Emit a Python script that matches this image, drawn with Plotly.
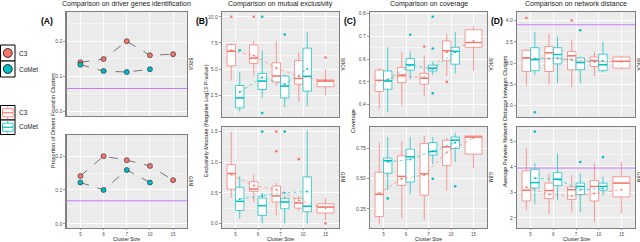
import plotly.graph_objects as go

W, H = 640, 242
CATS = ['5', '6', '7', '10', '15']
C3_COL = '#F8766D'
COMET_COL = '#00BFC4'
PURPLE = '#C77CFF'

# ---------------- Panel A: proportion of drivers found ----------------
A_BRCA_C3 = [0.140, 0.149, 0.200, 0.160, 0.163]
A_BRCA_COMET = [0.133, 0.115, 0.112, 0.120]
A_GBM_C3 = [0.141, 0.200, 0.188, 0.171, 0.129]
A_GBM_COMET = [0.122, 0.100, 0.159, 0.122]
A_BASE = [0.065, 0.068]

# ---------------- Panel B: mutual exclusivity ----------------
B_BRCA_C3 = dict(lo=[3.9, 4.4, 3.4, 1.9, 2.5], q1=[5.3, 5.55, 3.75, 3.55, 3.3],
                 med=[6.7, 6.05, 4.33, 4.1, 3.85], q3=[7.35, 7.3, 5.6, 5.8, 3.95],
                 hi=[7.45, 7.7, 7.7, 6.6, 5.0], mean=[6.8, 6.3, 5.1, 4.3, 3.9],
                 ox=[0, 1, 4], oy=[10.0, 10.0, 6.1])
B_BRCA_COMET = dict(lo=[0.96, 2.24, 1.35, 1.44], q1=[1.28, 3.04, 2.24, 2.88],
                    med=[2.24, 3.85, 3.37, 4.3], q3=[3.43, 4.58, 4.33, 7.0],
                    hi=[4.71, 6.8, 4.5, 8.5], mean=[2.8, 4.2, 3.55, 5.0],
                    ox=[0, 1, 1, 2], oy=[6.8, 10.0, 0.8, 8.3])
B_GBM_C3 = dict(lo=[0.42, 0.35, 0.13, 0.21, 0.05], q1=[0.56, 0.52, 0.35, 0.25, 0.17],
                med=[0.815, 0.56, 0.45, 0.335, 0.267], q3=[0.96, 0.68, 0.61, 0.41, 0.32],
                hi=[1.5, 0.8, 0.67, 0.45, 0.415], mean=[0.8, 0.62, 0.55, 0.38, 0.25],
                ox=[2, 2, 3, 4], oy=[1.5, 1.18, 1.05, 0.0])
B_GBM_COMET = dict(lo=[0.08, 0.0, 0.0, 0.0], q1=[0.21, 0.13, 0.24, 0.19],
                   med=[0.36, 0.29, 0.35, 0.28], q3=[0.59, 0.415, 0.41, 0.76],
                   hi=[0.77, 0.5, 0.45, 1.52], mean=[0.4, 0.45, 0.5, 0.52],
                   ox=[1, 2], oy=[1.5, 1.5])

# ---------------- Panel C: coverage ----------------
C_BRCA_C3 = dict(lo=[0.383, 0.397, 0.438, 0.526, 0.548], q1=[0.458, 0.497, 0.49, 0.593, 0.652],
                 med=[0.507, 0.53, 0.516, 0.637, 0.673], q3=[0.552, 0.563, 0.538, 0.68, 0.729],
                 hi=[0.56, 0.632, 0.615, 0.713, 0.747], mean=[0.505, 0.525, 0.52, 0.63, 0.68],
                 ox=[2, 3], oy=[0.655, 0.50])
C_BRCA_COMET = dict(lo=[0.368, 0.512, 0.53, 0.538], q1=[0.468, 0.552, 0.548, 0.578],
                    med=[0.504, 0.575, 0.56, 0.634], q3=[0.548, 0.603, 0.574, 0.652],
                    hi=[0.652, 0.634, 0.59, 0.718], mean=[0.51, 0.573, 0.558, 0.63],
                    ox=[1, 2, 2, 2], oy=[0.707, 0.786, 0.647, 0.45])
C_GBM_C3 = dict(lo=[0.12, 0.17, 0.158, 0.404, 0.587], q1=[0.185, 0.445, 0.363, 0.609, 0.705],
                med=[0.371, 0.519, 0.541, 0.765, 0.847], q3=[0.554, 0.69, 0.792, 0.82, 0.855],
                hi=[0.8, 0.814, 0.855, 0.84, 0.857], mean=[0.38, 0.5, 0.53, 0.72, 0.84],
                ox=[], oy=[])
C_GBM_COMET = dict(lo=[0.405, 0.371, 0.62, 0.636], q1=[0.546, 0.472, 0.697, 0.751],
                   med=[0.65, 0.683, 0.726, 0.82], q3=[0.672, 0.746, 0.8, 0.847],
                   hi=[0.847, 0.847, 0.847, 0.882], mean=[0.64, 0.66, 0.73, 0.8],
                   ox=[0, 2, 3], oy=[0.336, 0.5, 0.437])

# ---------------- Panel D: network distance ----------------
D_BRCA_C3 = dict(lo=[2.46, 2.49, 2.43, 2.7, 2.84], q1=[2.8, 2.8, 2.84, 2.92, 2.88],
                 med=[3.12, 3.24, 3.17, 3.06, 3.04], q3=[3.3, 3.39, 3.27, 3.14, 3.14],
                 hi=[3.33, 3.69, 3.55, 3.26, 3.17], mean=[3.12, 3.1, 3.08, 3.03, 3.03],
                 ox=[0, 2], oy=[4.06, 4.0])
D_BRCA_COMET = dict(lo=[2.72, 2.53, 2.53, 2.78], q1=[2.82, 2.98, 2.84, 2.82],
                    med=[3.08, 3.2, 3.01, 2.96], q3=[3.36, 3.36, 3.12, 3.21],
                    hi=[3.73, 3.62, 3.15, 3.5], mean=[3.1, 3.12, 3.02, 3.05],
                    ox=[0, 2], oy=[1.84, 3.77])
D_GBM_C3 = dict(lo=[2.3, 2.15, 2.21, 1.83, 2.18], q1=[2.66, 2.75, 2.72, 2.66, 2.82],
                med=[3.08, 3.07, 3.1, 3.23, 3.36], q3=[3.84, 3.36, 3.21, 3.46, 3.61],
                hi=[4.74, 3.74, 3.68, 4.13, 4.19], mean=[3.2, 2.92, 2.85, 2.95, 3.1],
                ox=[], oy=[])
D_GBM_COMET = dict(lo=[2.53, 2.69, 2.23, 2.87], q1=[3.17, 3.26, 2.91, 3.08],
                   med=[3.38, 3.51, 3.23, 3.23], q3=[3.9, 3.77, 3.36, 3.36],
                   hi=[4.15, 4.51, 3.74, 3.61], mean=[3.55, 3.5, 3.1, 3.15],
                   ox=[0, 2, 3], oy=[5.38, 4.19, 4.38])
D_BASE = [3.9, 3.95]

TITLES = ['Comparison on driver genes identification', 'Comparison on mutual exclusivity',
          'Comparison on coverage', 'Comparison on network distance']
LETTERS = ['(A)', '(B)', '(C)', '(D)']
YTITLES = ['Proportion of Drivers Found in Clusters',
           'Exclusivity Measure (Negative Log10 P-value)',
           'Coverage', 'Average Pairwise Network Distance between Clusters']
STRIPS = ['BRCA', 'GBM']

# ---------------- layout geometry (pixels) ----------------
XPIX = [(66.5, 187), (222, 339), (370, 487), (517, 635)]
YPIX_A = [(12, 116), (135, 228)]
YPIX = [(12, 117), (127, 228)]


def px(x):
    return x / W


def py(y):
    return 1 - y / H


fig = go.Figure()
DODGE = 0.1875
BW = 0.375


def ax_id(col, row):
    return col * 2 + row + 1


def add_boxes(idx, data, color, side):
    xa, ya = f'x{idx}', f'y{idx}'
    n = len(data['q1'])
    nd = min(n, 4)
    xs = [i + side * DODGE for i in range(nd)]
    fig.add_trace(go.Box(x=xs, q1=data['q1'][:nd], median=data['med'][:nd], q3=data['q3'][:nd],
                         lowerfence=data['lo'][:nd], upperfence=data['hi'][:nd], width=BW,
                         fillcolor='white', line=dict(color=color, width=0.7), whiskerwidth=0,
                         boxpoints=False, xaxis=xa, yaxis=ya, showlegend=False, hoverinfo='skip'))
    mx, my = [], []
    for i in range(nd):
        mx += [xs[i] - BW / 2, xs[i] + BW / 2, None]
        my += [data['med'][i], data['med'][i], None]
    xm = list(xs)
    if n == 5:
        fig.add_trace(go.Box(x=[4], q1=[data['q1'][4]], median=[data['med'][4]], q3=[data['q3'][4]],
                             lowerfence=[data['lo'][4]], upperfence=[data['hi'][4]], width=0.75,
                             fillcolor='white', line=dict(color=color, width=0.7), whiskerwidth=0,
                             boxpoints=False, xaxis=xa, yaxis=ya, showlegend=False, hoverinfo='skip'))
        mx += [4 - 0.375, 4 + 0.375, None]
        my += [data['med'][4], data['med'][4], None]
        xm.append(4)
    fig.add_trace(go.Scatter(x=mx, y=my, mode='lines', line=dict(color=color, width=1.4),
                             xaxis=xa, yaxis=ya, showlegend=False, hoverinfo='skip'))
    fig.add_trace(go.Scatter(x=xm, y=data['mean'], mode='lines+markers',
                             line=dict(color=color, width=0.6, dash='dot'),
                             marker=dict(size=2.0, color=color),
                             xaxis=xa, yaxis=ya, showlegend=False, hoverinfo='skip'))
    oxs = [o + (side * DODGE if (n == 4 or o < 4) else 0) for o in data['ox']]
    if oxs:
        fig.add_trace(go.Scatter(x=oxs, y=data['oy'], mode='markers',
                                 marker=dict(size=2.6, color=color),
                                 xaxis=xa, yaxis=ya, showlegend=False, hoverinfo='skip'))


for row, (c3, cm, base) in enumerate([(A_BRCA_C3, A_BRCA_COMET, A_BASE[0]),
                                      (A_GBM_C3, A_GBM_COMET, A_BASE[1])]):
    idx = ax_id(0, row)
    xa, ya = f'x{idx}', f'y{idx}'
    fig.add_trace(go.Scatter(x=[-0.6, 4.6], y=[base, base], mode='lines',
                             line=dict(color=PURPLE, width=1.0), xaxis=xa, yaxis=ya,
                             showlegend=False, hoverinfo='skip'))
    for vals, col in [(c3, C3_COL), (cm, COMET_COL)]:
        fig.add_trace(go.Scatter(x=list(range(len(vals))), y=vals, mode='lines+markers',
                                 line=dict(color='#444444', width=0.7, dash='dash'),
                                 marker=dict(size=5, color=col, line=dict(color='#222222', width=0.6)),
                                 xaxis=xa, yaxis=ya, showlegend=False, hoverinfo='skip'))

panels = [(1, B_BRCA_C3, B_BRCA_COMET, B_GBM_C3, B_GBM_COMET),
          (2, C_BRCA_C3, C_BRCA_COMET, C_GBM_C3, C_GBM_COMET),
          (3, D_BRCA_C3, D_BRCA_COMET, D_GBM_C3, D_GBM_COMET)]
for col, bc3, bcm, gc3, gcm in panels:
    for row, (c3, cm) in enumerate([(bc3, bcm), (gc3, gcm)]):
        idx = ax_id(col, row)
        if col == 3:
            fig.add_trace(go.Scatter(x=[-0.6, 4.6], y=[D_BASE[row]] * 2, mode='lines',
                                     line=dict(color=PURPLE, width=1.0), xaxis=f'x{idx}',
                                     yaxis=f'y{idx}', showlegend=False, hoverinfo='skip'))
        add_boxes(idx, c3, C3_COL, -1)
        add_boxes(idx, cm, COMET_COL, 1)

YSPEC = {
    1: ([-0.0135, 0.2835], 0.1, '.1f'), 2: ([-0.0125, 0.2625], 0.1, '.1f'),
    3: ([0.41, 10.46], 2.5, '.1f'), 4: ([-0.075, 1.575], 0.5, '.1f'),
    5: ([0.346, 0.807], 0.1, '.1f'), 6: ([0.09, 0.93], 0.25, '.2f'),
    7: ([1.73, 4.2], 0.5, '.1f'), 8: ([1.6, 5.56], 1, 'd'),
}
layout_axes = {}
for col in range(4):
    for row in range(2):
        idx = ax_id(col, row)
        ypx = (YPIX_A if col == 0 else YPIX)[row]
        rng, dt, fmt = YSPEC[idx]
        sfx = '' if idx == 1 else str(idx)
        layout_axes['xaxis' + sfx] = dict(
            domain=[px(XPIX[col][0]), px(XPIX[col][1])], range=[-0.6, 4.6],
            tickvals=list(range(5)), ticktext=CATS, anchor='y' + sfx,
            showticklabels=(row == 1), ticks='outside' if row == 1 else '',
            ticklen=1, tickwidth=0.6, tickcolor='#555555',
            tickfont=dict(size=4.5, color='#4D4D4D'),
            showgrid=True, gridcolor='white', gridwidth=0.9, zeroline=False,
            showline=True, linecolor='#808080', linewidth=1.2, mirror=True)
        layout_axes['yaxis' + sfx] = dict(
            domain=[py(ypx[1]), py(ypx[0])], range=rng, dtick=dt, tick0=0, tickformat=fmt,
            anchor='x' + sfx, ticks='outside', ticklen=2, tickwidth=0.6, tickcolor='#555555',
            tickfont=dict(size=5, color='#4D4D4D'),
            showgrid=True, gridcolor='white', gridwidth=0.9,
            minor=dict(showgrid=True, gridcolor='white', gridwidth=0.4, dtick=dt / 2, tick0=0),
            zeroline=False, showline=True, linecolor='#808080', linewidth=1.2, mirror=True)

ann = []
FONT = 'Liberation Sans, Arial, sans-serif'
for col in range(4):
    x0, x1 = XPIX[col]
    cx = (x0 + x1) / 2
    ann.append(dict(text=TITLES[col], x=px(cx), y=py(4.5), font=dict(size=7, color='#1A1A1A')))
    ann.append(dict(text='<b>' + LETTERS[col] + '</b>', x=px(x0 - 20), y=py(20.5),
                    font=dict(size=8.5, color='#000000')))
    ytx = [53, 206, 353, 505][col]
    ann.append(dict(text=YTITLES[col], x=px(ytx), y=py(121), textangle=-90,
                    font=dict(size=5.5, color='#1A1A1A')))
    ann.append(dict(text='Cluster Size', x=px(cx), y=py(243.3), yanchor='bottom', borderpad=0,
                    font=dict(size=5, color='#1A1A1A')))
    ypxs = YPIX_A if col == 0 else YPIX
    for row in range(2):
        cy = (ypxs[row][0] + ypxs[row][1]) / 2
        ann.append(dict(text=STRIPS[row], x=px(x1 + 3.5), y=py(cy), textangle=90,
                        font=dict(size=4.5, color='#1A1A1A')))

LEG_NAMES = ['C3', 'CoMet']
for i, name in enumerate(LEG_NAMES):
    ann.append(dict(text=name, x=px(17), y=py(53 + 16 * i), xanchor='left',
                    font=dict(size=6.5, color='#1A1A1A')))
    ann.append(dict(text=name, x=px(17), y=py(112 + 14.5 * i), xanchor='left',
                    font=dict(size=6.5, color='#1A1A1A')))
for a in ann:
    a.setdefault('xref', 'paper')
    a.setdefault('yref', 'paper')
    a.setdefault('showarrow', False)
    a.setdefault('xanchor', 'center')
    a.setdefault('yanchor', 'middle')

shapes = []
LEG_COLS = [C3_COL, COMET_COL]
for i, c in enumerate(LEG_COLS):
    t, b = 45 + 16 * i, 61 + 16 * i
    shapes.append(dict(type='rect', x0=px(0.5), x1=px(15), y0=py(b), y1=py(t),
                       line=dict(color='#000000', width=1), fillcolor='white'))
    cy = (t + b) / 2
    shapes.append(dict(type='circle', x0=px(3.3), x1=px(12.2), y0=py(cy + 4.45), y1=py(cy - 4.45),
                       line=dict(color='#000000', width=0.8), fillcolor=c))
    t, b = 105.5 + 14.5 * i, 120 + 14.5 * i
    shapes.append(dict(type='rect', x0=px(0.5), x1=px(15), y0=py(b), y1=py(t),
                       line=dict(color='#000000', width=1), fillcolor='white'))
    shapes.append(dict(type='line', x0=px(7.75), x1=px(7.75), y0=py(b - 1), y1=py(t + 1),
                       line=dict(color=c, width=0.8)))
    shapes.append(dict(type='rect', x0=px(2.5), x1=px(13), y0=py(b - 3.2), y1=py(t + 3.2),
                       line=dict(color=c, width=0.8), fillcolor='white'))
    cy = (t + b) / 2
    shapes.append(dict(type='line', x0=px(2.5), x1=px(13), y0=py(cy), y1=py(cy),
                       line=dict(color=c, width=1.2)))
for s in shapes:
    s['xref'] = 'paper'
    s['yref'] = 'paper'
    s['layer'] = 'above'

fig.update_layout(
    width=W, height=H, margin=dict(l=0, r=0, t=0, b=0, autoexpand=False),
    paper_bgcolor='white', plot_bgcolor='#EBEBEB',
    font=dict(family=FONT, size=6, color='#1A1A1A'),
    showlegend=False, annotations=ann, shapes=shapes, **layout_axes)

fig.write_html('out.html', config={'displayModeBar': False, 'staticPlot': True},
               post_script="document.body.style.margin='0';document.body.style.overflow='hidden';")
